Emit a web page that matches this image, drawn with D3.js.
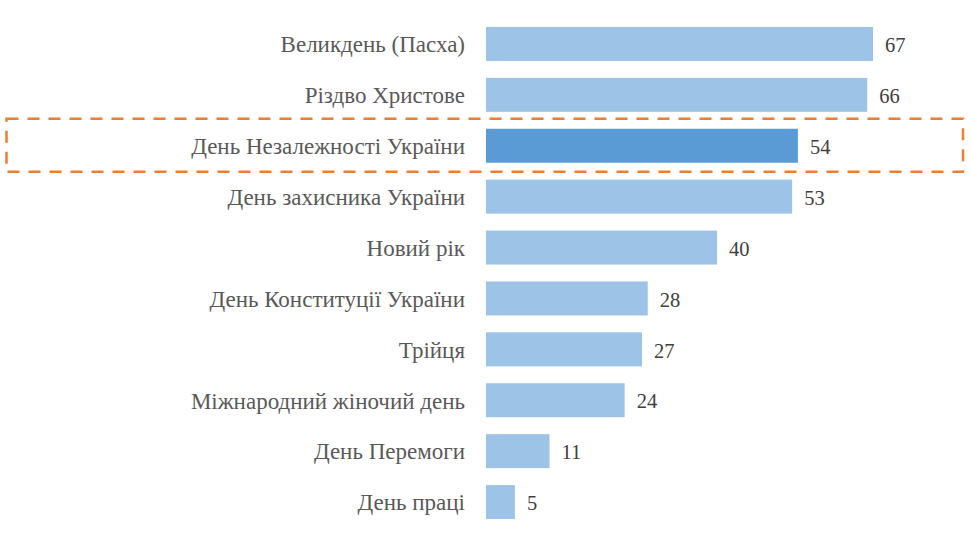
<!DOCTYPE html>
<html>
<head>
<meta charset="utf-8">
<script src="https://cdn.jsdelivr.net/npm/d3@7"></script>
<style>
  body { margin: 0; background: #fff; }
</style>
</head>
<body>
<svg id="chart" width="971" height="546"></svg>
<script>
// holidays, sorted as in the picture
var categories = ['Великдень (Пасха)', 'Різдво Христове', 'День Незалежності України',
  'День захисника України', 'Новий рік', 'День Конституції України', 'Трійця',
  'Міжнародний жіночий день', 'День Перемоги', 'День праці'];
var values = [67, 66, 54, 53, 40, 28, 27, 24, 11, 5];
var highlighted = ['День Незалежності України'];

var FONT = 'Liberation Serif';
var svg = d3.select('#chart');

var y = d3.scaleBand()
  .domain(categories)
  .range([18.5, 527.5])
  .paddingInner(0.332)
  .paddingOuter(0.166);

var x = d3.scaleLinear()
  .domain([0, 67])
  .range([486, 873]);

// bars
svg.append('g').selectAll('rect')
  .data(categories)
  .enter().append('rect')
  .attr('x', x(0))
  .attr('y', function(d) { return y(d); })
  .attr('width', function(d, i) { return x(values[i]) - x(0); })
  .attr('height', y.bandwidth())
  .attr('fill', function(d) { return highlighted.indexOf(d) >= 0 ? '#5B9BD5' : '#9DC3E6'; });

// category labels
svg.append('g').selectAll('text')
  .data(categories)
  .enter().append('text')
  .attr('x', x(0) - 21)
  .attr('y', function(d) { return y(d) + y.bandwidth() / 2; })
  .attr('dy', '0.36em')
  .attr('text-anchor', 'end')
  .attr('font-family', FONT)
  .attr('font-size', 23)
  .attr('fill', '#595959')
  .text(function(d) { return d; });

// value labels
svg.append('g').selectAll('text')
  .data(categories)
  .enter().append('text')
  .attr('x', function(d, i) { return x(values[i]) + 12; })
  .attr('y', function(d) { return y(d) + y.bandwidth() / 2; })
  .attr('dy', '0.4em')
  .attr('font-family', FONT)
  .attr('font-size', 20.5)
  .attr('fill', '#404040')
  .text(function(d, i) { return values[i]; });

// dashed frame round the highlighted row
var hy = y(highlighted[0]);
svg.append('rect')
  .attr('x', 6.5)
  .attr('y', hy - 10)
  .attr('width', 956.5)
  .attr('height', y.bandwidth() + 19)
  .attr('fill', 'none')
  .attr('stroke', '#ED7D31')
  .attr('stroke-width', 2.5)
  .attr('stroke-dasharray', '12,9');
</script>
</body>
</html>
